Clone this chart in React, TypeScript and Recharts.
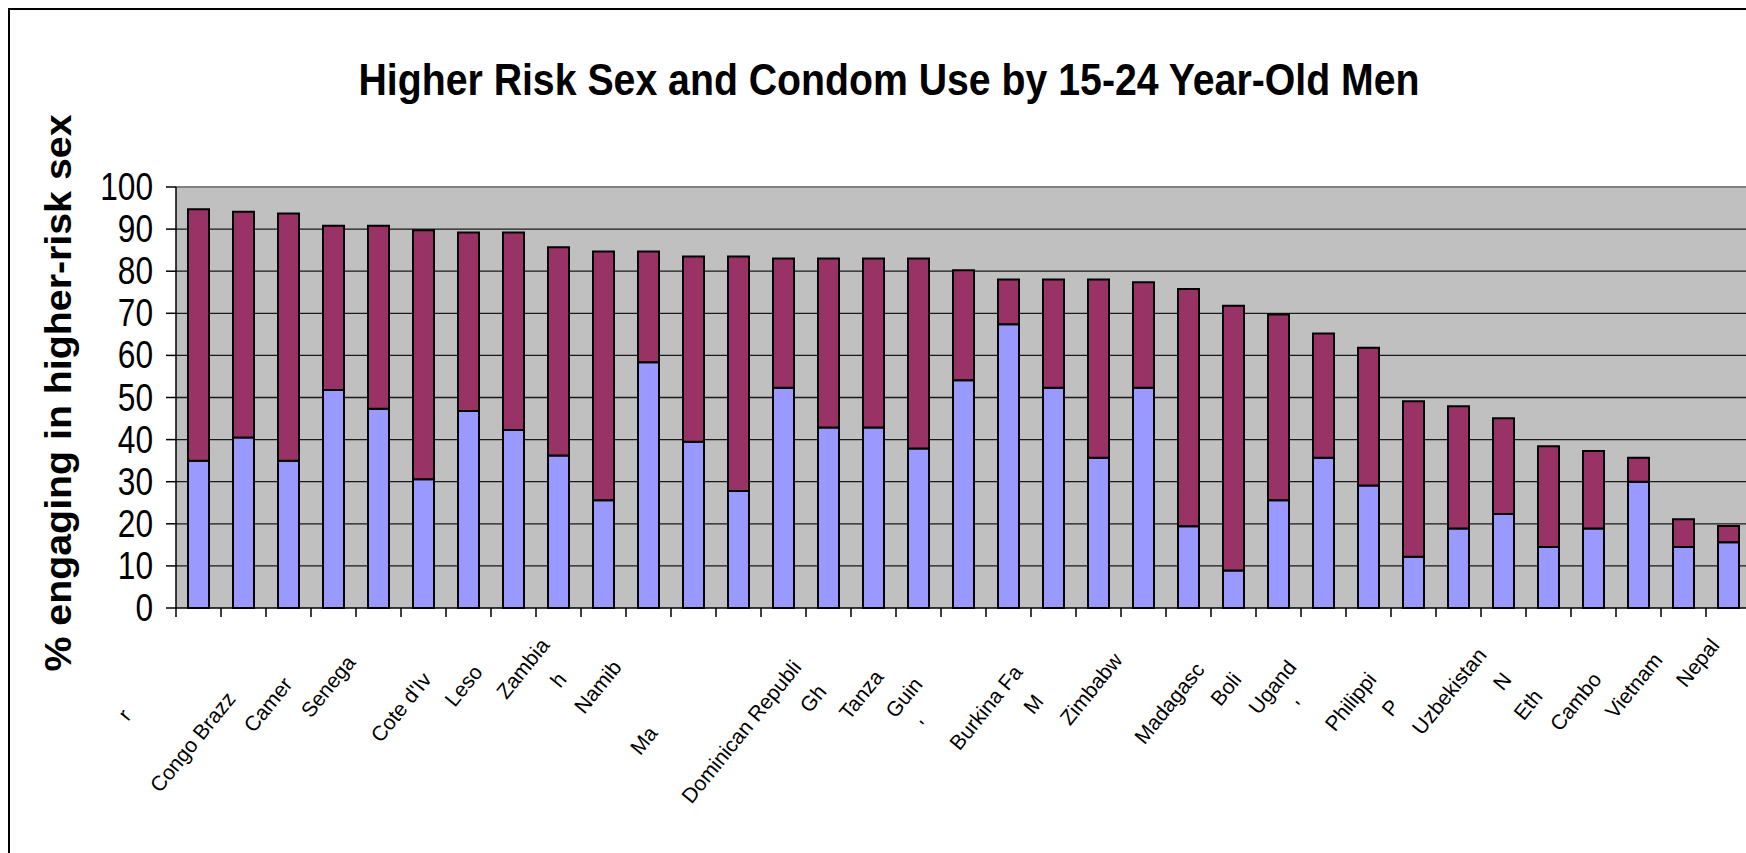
import { BarChart, Bar, XAxis, YAxis, CartesianGrid, ReferenceLine } from "recharts";

// Country labels as they appear under each bar (many are cut short or blank)
const countryLabels = [
  "r", "", "Congo Brazz", "Camer", "Senega", "", "Cote d'Iv", "Leso", "Zambia", "h",
  "Namib", "", "Ma", "", "Dominican Republi", "Gh", "Tanza", "Guin", "'", "Burkina Fa",
  "M", "Zimbabw", "", "Madagasc", "Boli", "Ugand", "'", "Philippi", "P", "Uzbekistan",
  "N", "Eth", "Cambo", "Vietnam", "Nepal",
];

// how far each visible label piece sits down its slanted line (px left of the bar centre)
const labelInset = [
  -66, 0, -52, -40, -22, 0, -36, -30, -8, -36,
  -26, 0, -80, 0, -26, -46, -34, -40, -76, -30,
  -54, -20, 0, -28, -36, -26, -60, -36, -58, -16,
  -36, -50, -36, -20, -8,
];

// % of 15-24 year-old men engaging in higher-risk sex
const higherRisk = [
  94.7, 94.1, 93.7, 90.8, 90.8, 89.7, 89.2, 89.2, 85.7, 84.7,
  84.7, 83.5, 83.5, 83.0, 83.0, 83.0, 83.0, 80.2, 78.0, 78.0,
  78.0, 77.4, 75.8, 71.8, 69.7, 65.2, 61.8, 49.1, 47.9, 45.1,
  38.4, 37.3, 35.7, 21.1, 19.5,
];

// share of those who used a condom at last higher-risk sex
const condomUse = [
  35.0, 40.5, 35.0, 51.8, 47.3, 30.6, 46.8, 42.3, 36.2, 25.6,
  58.4, 39.5, 27.8, 52.3, 42.9, 42.9, 37.9, 54.1, 67.4, 52.3,
  35.7, 52.3, 19.4, 8.9, 25.6, 35.7, 29.1, 12.2, 18.9, 22.3,
  14.5, 18.9, 30.0, 14.5, 15.6,
];

const yTicks = [0, 10, 20, 30, 40, 50, 60, 70, 80, 90, 100];
const gridValues = [10, 20, 30, 40, 50, 60, 70, 80, 90];

const rows = countryLabels.map((_, i) => ({
  slot: i,
  condom: condomUse[i],
  rest: +(higherRisk[i] - condomUse[i]).toFixed(1),
}));

const FONT = "'Liberation Sans', Arial, sans-serif";

function ValueTick({ x, y, payload }: any) {
  const s = String(payload.value);
  return (
    <text
      x={x}
      y={y}
      dy={13}
      textAnchor="end"
      fontSize={38}
      fontFamily={FONT}
      fill="#000"
      textLength={s.length * 17.6}
      lengthAdjust="spacingAndGlyphs"
    >
      {s}
    </text>
  );
}

function CountryTick({ x, y, payload }: any) {
  const i = Number(payload.value);
  const label = countryLabels[i] ?? "";
  const inset = labelInset[i] ?? 0;
  const half = payload.offset ?? 22.5;
  const ax = x + inset;
  const ay = y + 28 - 1.22 * inset;
  return (
    <g>
      <line x1={x - half} x2={x - half} y1={y} y2={y + 9} stroke="#000" strokeWidth={1.5} />
      {label && (
        <text
          transform={`translate(${ax},${ay}) rotate(-51)`}
          textAnchor="end"
          fontSize={21}
          fontFamily={FONT}
          fill="#000"
        >
          {label}
        </text>
      )}
    </g>
  );
}

export default function App() {
  return (
    <div
      style={{
        position: "fixed",
        left: 0,
        top: 0,
        width: 1746,
        height: 853,
        overflow: "hidden",
        background: "#fff",
      }}
    >
      <div
        style={{
          position: "absolute",
          left: 8,
          top: 8,
          width: 1800,
          height: 900,
          border: "2px solid #000",
        }}
      />
      <div style={{ position: "absolute", left: 0, top: 0 }}>
        <BarChart
          width={1760}
          height={853}
          data={rows}
          margin={{ top: 187, right: 9, bottom: 45, left: 0 }}
          barCategoryGap={12}
        >
          <CartesianGrid
            vertical={false}
            horizontalValues={gridValues}
            stroke="#1a1a1a"
            strokeWidth={1.3}
            fill="#C0C0C0"
            fillOpacity={1}
          />
          <XAxis
            dataKey="slot"
            type="category"
            interval={0}
            height={200}
            tickSize={0}
            tickMargin={0}
            tickLine={false}
            axisLine={{ stroke: "#000", strokeWidth: 1.5 }}
            tick={<CountryTick />}
          />
          <YAxis
            domain={[0, 100]}
            ticks={yTicks}
            interval={0}
            width={176}
            tickSize={10}
            tickMargin={13}
            axisLine={{ stroke: "#000", strokeWidth: 1.5 }}
            tickLine={{ stroke: "#000", strokeWidth: 1.5 }}
            tick={<ValueTick />}
          />
          <ReferenceLine y={100} stroke="#808080" strokeWidth={2} />
          <Bar dataKey="condom" stackId="men" fill="#9999FF" stroke="#000" strokeWidth={2} isAnimationActive={false} />
          <Bar dataKey="rest" stackId="men" fill="#993366" stroke="#000" strokeWidth={2} isAnimationActive={false} />
        </BarChart>
      </div>
      <svg
        width={1746}
        height={853}
        style={{ position: "absolute", left: 0, top: 0, pointerEvents: "none" }}
      >
        <text
          x={889}
          y={95}
          textAnchor="middle"
          fontSize={44}
          fontWeight="bold"
          fontFamily={FONT}
          fill="#000"
          textLength={1061}
          lengthAdjust="spacingAndGlyphs"
        >
          Higher Risk Sex and Condom Use by 15-24 Year-Old Men
        </text>
        <text
          transform="translate(71,393) rotate(-90)"
          textAnchor="middle"
          fontSize={37}
          fontWeight="bold"
          fontFamily={FONT}
          fill="#000"
          textLength={557}
          lengthAdjust="spacingAndGlyphs"
        >
          % engaging in higher-risk sex
        </text>
      </svg>
    </div>
  );
}
